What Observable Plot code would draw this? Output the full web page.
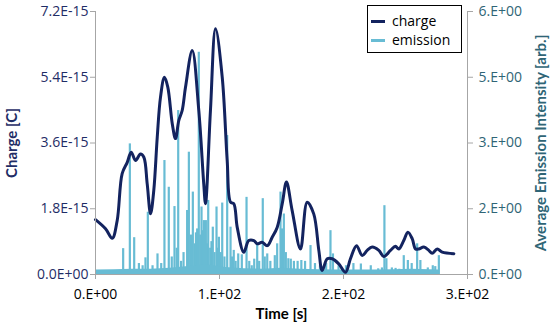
<!DOCTYPE html>
<html>
<head>
<meta charset="utf-8">
<script src="https://cdn.jsdelivr.net/npm/d3@7"></script>
<script src="https://cdn.jsdelivr.net/npm/@observablehq/plot@0.6"></script>
<style>
  html, body { margin: 0; padding: 0; background: #fff; }
  #wrap { position: relative; width: 550px; height: 328px; font-family: "Open Sans", sans-serif; }
  #legend { position: absolute; left: 367px; top: 5px; width: 93px; height: 46px; border: 1px solid #000; background: #fff; box-sizing: content-box; }
  .lg-line { position: absolute; left: 3px; width: 14px; height: 0; }
  .lg-text { position: absolute; left: 24px; font-size: 14px; color: #000; line-height: 16px; }
</style>
</head>
<body>
<div id="wrap">
  <div id="chart"></div>
  <div id="legend">
    <div class="lg-line" style="top:14px;border-top:3px solid #13235f"></div>
    <div class="lg-text" style="top:7px">charge</div>
    <div class="lg-line" style="top:33px;border-top:3px solid #68bcd4"></div>
    <div class="lg-text" style="top:26px">emission</div>
  </div>
</div>
<script>
// ---- data ----
// charge in units of 1e-15 C
const chargeT = [0, 8.1, 13.5, 17.5, 21.5, 25.6, 28.8, 32.3, 36.3, 39, 41.7, 44.4, 47, 49.8, 52.4, 55.6, 58.3, 61.9, 64.5, 67.2, 69.9, 72.6, 78, 83.3, 87.3, 88.7, 92.7, 96.8, 102.2, 106.2, 108.9, 111.5, 114.3, 119.6, 123.6, 127.7, 130.4, 134.4, 138.5, 142.5, 146.5, 150.6, 154, 158.6, 165.3, 170.7, 176, 180.1, 182.8, 186.9, 190.9, 196.2, 201.6, 205.6, 210.5, 215.1, 219.1, 223.1, 228.5, 232.5, 237.9, 241.9, 244.6, 248.6, 251.9, 255.4, 258.1, 260.7, 264.8, 268.8, 271.5, 275.6, 279.6, 289];
const chargeQ = [1.50, 1.25, 0.99, 1.48, 2.76, 3.07, 3.35, 3.12, 3.30, 3.21, 2.48, 1.66, 2.30, 3.76, 4.85, 5.40, 5.13, 4.13, 3.72, 4.22, 4.49, 5.13, 6.13, 4.49, 2.48, 1.94, 4.49, 6.73, 5.40, 3.12, 1.98, 1.94, 1.29, 0.61, 0.93, 0.93, 0.84, 0.88, 0.79, 1.02, 1.29, 1.94, 2.53, 1.75, 0.70, 1.98, 1.66, 0.66, 0.11, 0.43, 0.43, 0.29, 0.06, 0.43, 0.79, 0.52, 0.66, 0.75, 0.66, 0.49, 0.66, 0.77, 0.70, 0.93, 1.16, 0.98, 0.70, 0.70, 0.75, 0.66, 0.58, 0.70, 0.61, 0.57];

// emission spikes (arb.)
const emissionT = [22.3, 27.7, 31.2, 35.0, 38, 40.3, 42.2, 46, 50.0, 53, 55.6, 59.1, 61.5, 63.7, 65.5, 66.7, 69, 71, 73.9, 75.3, 77, 78.5, 80, 81, 82.0, 83.3, 84.5, 85.5, 86.5, 87.4, 88.2, 89.0, 90.0, 90.9, 92.5, 93.5, 94.6, 96, 97.6, 98.5, 99.5, 101, 102.2, 104, 106.2, 108.9, 110, 111.5, 113, 115.1, 118, 121.8, 124, 126, 128, 130.4, 132, 134.9, 136.5, 138.5, 141, 144.6, 146.5, 149.2, 150.5, 151.9, 153.5, 155.5, 157.5, 160, 163, 166, 169, 173.4, 177, 181, 186, 189.5, 191.5, 196, 202, 208, 214, 222, 228, 231, 233.0, 234.6, 239, 242, 245, 248.6, 251.9, 255, 259.4, 262, 268, 272, 274, 276.9];
const emissionV = [0.59, 2.98, 0.84, 0.25, 0.20, 0.38, 1.42, 0.20, 0.47, 0.25, 2.60, 1.99, 0.40, 1.55, 0.60, 3.74, 0.30, 0.50, 1.46, 2.79, 0.90, 1.88, 0.70, 0.95, 1.04, 5.07, 0.90, 1.54, 1.00, 1.23, 0.80, 1.23, 0.70, 1.69, 0.60, 0.75, 1.08, 0.50, 1.54, 0.60, 0.85, 0.50, 1.63, 0.40, 3.17, 1.08, 0.40, 0.55, 0.30, 0.47, 0.45, 1.76, 0.30, 0.20, 0.35, 0.70, 0.30, 1.73, 0.40, 0.47, 0.30, 0.43, 0.70, 1.88, 1.04, 1.38, 0.50, 0.36, 0.35, 0.30, 0.30, 0.32, 0.30, 0.66, 0.25, 0.20, 0.25, 1.00, 0.47, 0.20, 0.20, 0.25, 0.24, 0.20, 0.13, 0.15, 1.57, 0.36, 0.15, 0.14, 0.12, 0.43, 0.32, 0.25, 0.70, 0.32, 0.15, 0.20, 0.18, 0.43];

// emission background level
const baseT = [0, 15, 30, 45, 60, 75, 90, 105, 120, 135, 150, 165, 180, 195, 210, 225, 240, 255, 270, 277];
const baseV = [0.10, 0.11, 0.12, 0.12, 0.14, 0.18, 0.22, 0.16, 0.13, 0.12, 0.14, 0.12, 0.11, 0.10, 0.10, 0.10, 0.11, 0.12, 0.11, 0.10];

const timeTicks = [0, 100, 200, 300];
const chargeTicks = [0, 1.8, 3.6, 5.4, 7.2];
const emissionTicks = [0, 1.5, 3, 4.5, 6];

// ---- helpers ----
const ratio = 7.2 / 6; // emission axis max 6 -> charge axis max 7.2
function sci(val, digits) {
  let exp = 0, mant = 0;
  if (val !== 0) {
    exp = Math.floor(Math.log10(Math.abs(val)) + 1e-9);
    mant = val / Math.pow(10, exp);
  }
  const m = digits === 0 ? mant.toFixed(0) + "." : mant.toFixed(digits);
  const s = exp < 0 ? "-" : "+";
  return m + "E" + s + String(Math.abs(exp)).padStart(2, "0");
}

const charge = chargeT.map((t, i) => ({t, q: chargeQ[i]}));
const emission = emissionT.map((t, i) => ({t, v: emissionV[i]}));
const base = baseT.map((t, i) => ({t, v: baseV[i]}));

const navy = "#13235f";
const light = "#68bcd4";
const axisGray = "#a6a6a6";
const titleFont = "Lato, 'Open Sans', sans-serif";

const chart = Plot.plot({
  width: 550,
  height: 328,
  marginLeft: 95,
  marginRight: 83,
  marginTop: 11,
  marginBottom: 54,
  style: {fontFamily: "'Open Sans', sans-serif", fontSize: "14px", background: "#fff"},
  x: {domain: [0, 300]},
  y: {domain: [0, 7.2]},
  marks: [
    Plot.ruleX(emission, {x: "t", y1: 0, y2: d => d.v * ratio, stroke: light, strokeWidth: 2.2}),
    Plot.areaY(base, {x: "t", y: d => d.v * ratio, fill: light, curve: "linear"}),
    Plot.line(charge, {x: "t", y: "q", stroke: navy, strokeWidth: 3, curve: "catmull-rom"}),
    Plot.ruleX([0, 300], {stroke: axisGray, strokeWidth: 1}),
    Plot.ruleY([0], {stroke: axisGray, strokeWidth: 1}),
    Plot.axisY(chargeTicks, {anchor: "left", tickSize: 5, tickPadding: 2, stroke: axisGray, fill: "#1f2d66", fontSize: 14, label: null, tickFormat: d => sci(d * 1e-15, 1)}),
    Plot.axisY(emissionTicks.map(v => v * ratio), {anchor: "right", tickSize: 5, tickPadding: 6, stroke: axisGray, fill: "#2f6576", fontSize: 14, label: null, tickFormat: d => sci(d / ratio, 0)}),
    Plot.axisX(timeTicks, {anchor: "bottom", tickSize: 5, tickPadding: 10, stroke: axisGray, fill: "#000", fontSize: 14, label: null, tickFormat: d => sci(d, 0)}),
    Plot.text(["Charge [C]"], {frameAnchor: "left", textAnchor: "middle", dx: -83, rotate: -90, fill: "#1f2d66", fontWeight: "bold", fontSize: 15, fontFamily: titleFont}),
    Plot.text(["Average Emission Intensity [arb.]"], {frameAnchor: "right", textAnchor: "middle", dx: 74, rotate: -90, fill: "#2f6576", fontWeight: "bold", fontSize: 15, fontFamily: titleFont}),
    Plot.text(["Time [s]"], {frameAnchor: "bottom", textAnchor: "middle", dy: 44, fill: "#000", fontWeight: "bold", fontSize: 15, fontFamily: titleFont})
  ]
});
document.getElementById("chart").appendChild(chart);
</script>
</body>
</html>
